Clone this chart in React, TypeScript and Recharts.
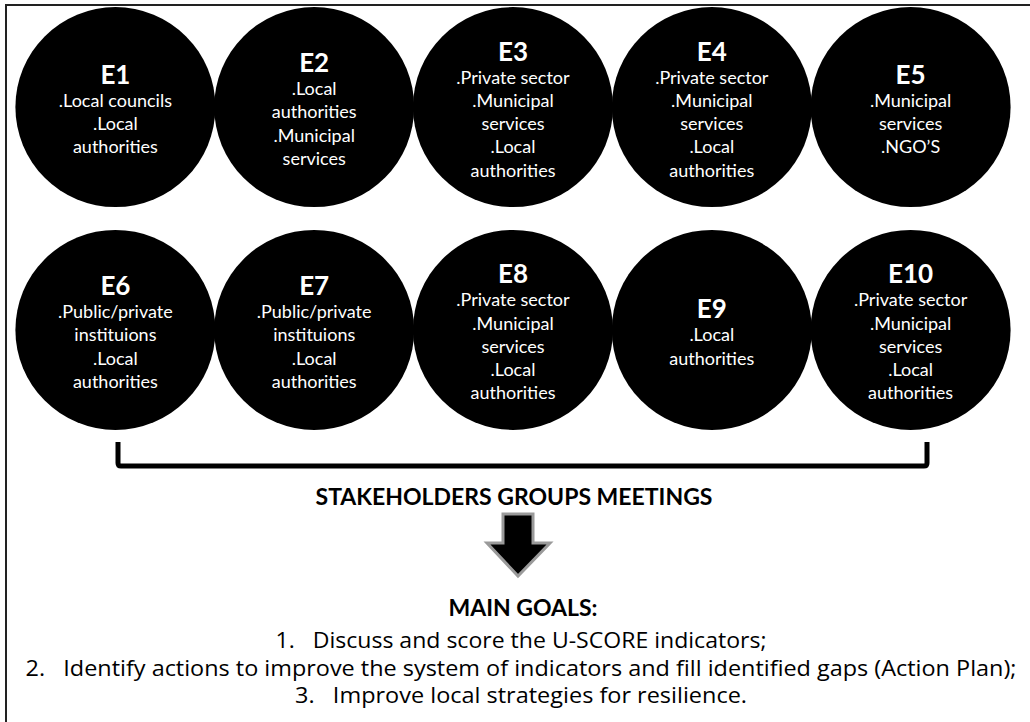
import React from 'react'
import { ScatterChart, Scatter, XAxis, YAxis } from 'recharts'

// groups of stakeholders, laid out in a 5 x 2 grid
const GROUPS = ['E1', 'E2', 'E3', 'E4', 'E5', 'E6', 'E7', 'E8', 'E9', 'E10']
const COLS = [0, 1, 2, 3, 4, 0, 1, 2, 3, 4]
const ROWS = [0, 0, 0, 0, 0, 1, 1, 1, 1, 1]
const STAKEHOLDERS = [
    ['.Local councils', '.Local', 'authorities'],
    ['.Local', 'authorities', '.Municipal', 'services'],
    ['.Private sector', '.Municipal', 'services', '.Local', 'authorities'],
    ['.Private sector', '.Municipal', 'services', '.Local', 'authorities'],
    ['.Municipal', 'services', '.NGO\u2019S'],
    ['.Public/private', 'instituions', '.Local', 'authorities'],
    ['.Public/private', 'instituions', '.Local', 'authorities'],
    ['.Private sector', '.Municipal', 'services', '.Local', 'authorities'],
    ['.Local', 'authorities'],
    ['.Private sector', '.Municipal', 'services', '.Local', 'authorities'],
]

const MEETINGS_LABEL = 'STAKEHOLDERS GROUPS MEETINGS'
const GOALS_TITLE = 'MAIN GOALS:'
const GOALS = [
    '1.   Discuss and score the U-SCORE indicators;',
    '2.   Identify actions to improve the system of indicators and fill identified gaps (Action Plan);',
    '3.   Improve local strategies for resilience.',
]
// rendered widths of the goal lines in the picture
const GOAL_WIDTHS = [491, 991, 452]

const data = GROUPS.map((name, i) => ({
    name,
    col: COLS[i],
    row: ROWS[i],
    lines: STAKEHOLDERS[i],
}))

const FONT = 'Lato, "Open Sans", sans-serif'

const Bubble = (props: any) => {
    const { cx, cy, payload } = props
    const lines: string[] = payload.lines
    const gap = 26
    const step = 23.3
    const total = gap + (lines.length - 1) * step
    const top = cy - total / 2 + 3
    return (
        <g>
            <circle cx={cx} cy={cy} r={100} fill="#000" />
            <text x={cx} y={top} textAnchor="middle" dominantBaseline="central"
                fill="#fff" fontFamily={FONT} fontWeight={700} fontSize={26}>
                {payload.name}
            </text>
            {lines.map((l, j) => (
                <text key={j} x={cx} y={top + gap + j * step} textAnchor="middle" dominantBaseline="central"
                    fill="#fff" fontFamily={FONT} fontSize={18}>
                    {l}
                </text>
            ))}
        </g>
    )
}

const App = () => {
    return (
        <div style={{ position: 'absolute', left: 0, top: 0, background: '#fff' }}>
            <ScatterChart width={1030} height={722} margin={{ top: 18, right: 20, bottom: 303, left: 16 }}>
                <XAxis type="number" dataKey="col" domain={[-0.5, 4.5]} hide />
                <YAxis type="number" dataKey="row" domain={[-0.4, 1.4]} reversed hide />
                <rect x={6} y={5} width={1040} height={740} fill="none" stroke="#222" strokeWidth={2} />
                <Scatter data={data} shape={Bubble} isAnimationActive={false} />
                <path d="M118 442 L118 463 Q118 466 121 466 L924 466 Q927 466 927 463 L927 442"
                    fill="none" stroke="#000" strokeWidth={5} />
                <text x={514} y={496} textAnchor="middle" dominantBaseline="central"
                    fontFamily={FONT} fontWeight={700} fontSize={23} fill="#000">
                    {MEETINGS_LABEL}
                </text>
                <polygon points="503,514 533,514 533,543 550,543 518,576 487,543 503,543"
                    fill="#000" stroke="#9a9a9a" strokeWidth={3} strokeLinejoin="miter" />
                <text x={523} y={607} textAnchor="middle" dominantBaseline="central"
                    fontFamily={FONT} fontWeight={700} fontSize={23} fill="#000">
                    {GOALS_TITLE}
                </text>
                {GOALS.map((g, i) => (
                    <text key={i} x={521} y={640 + i * 27.5} textAnchor="middle" dominantBaseline="central"
                        fontFamily='"Open Sans", Lato, sans-serif' fontSize={21} fill="#000"
                        textLength={GOAL_WIDTHS[i]} lengthAdjust="spacingAndGlyphs"
                        style={{ whiteSpace: 'pre' }}>
                        {g}
                    </text>
                ))}
            </ScatterChart>
        </div>
    )
}

export default App
